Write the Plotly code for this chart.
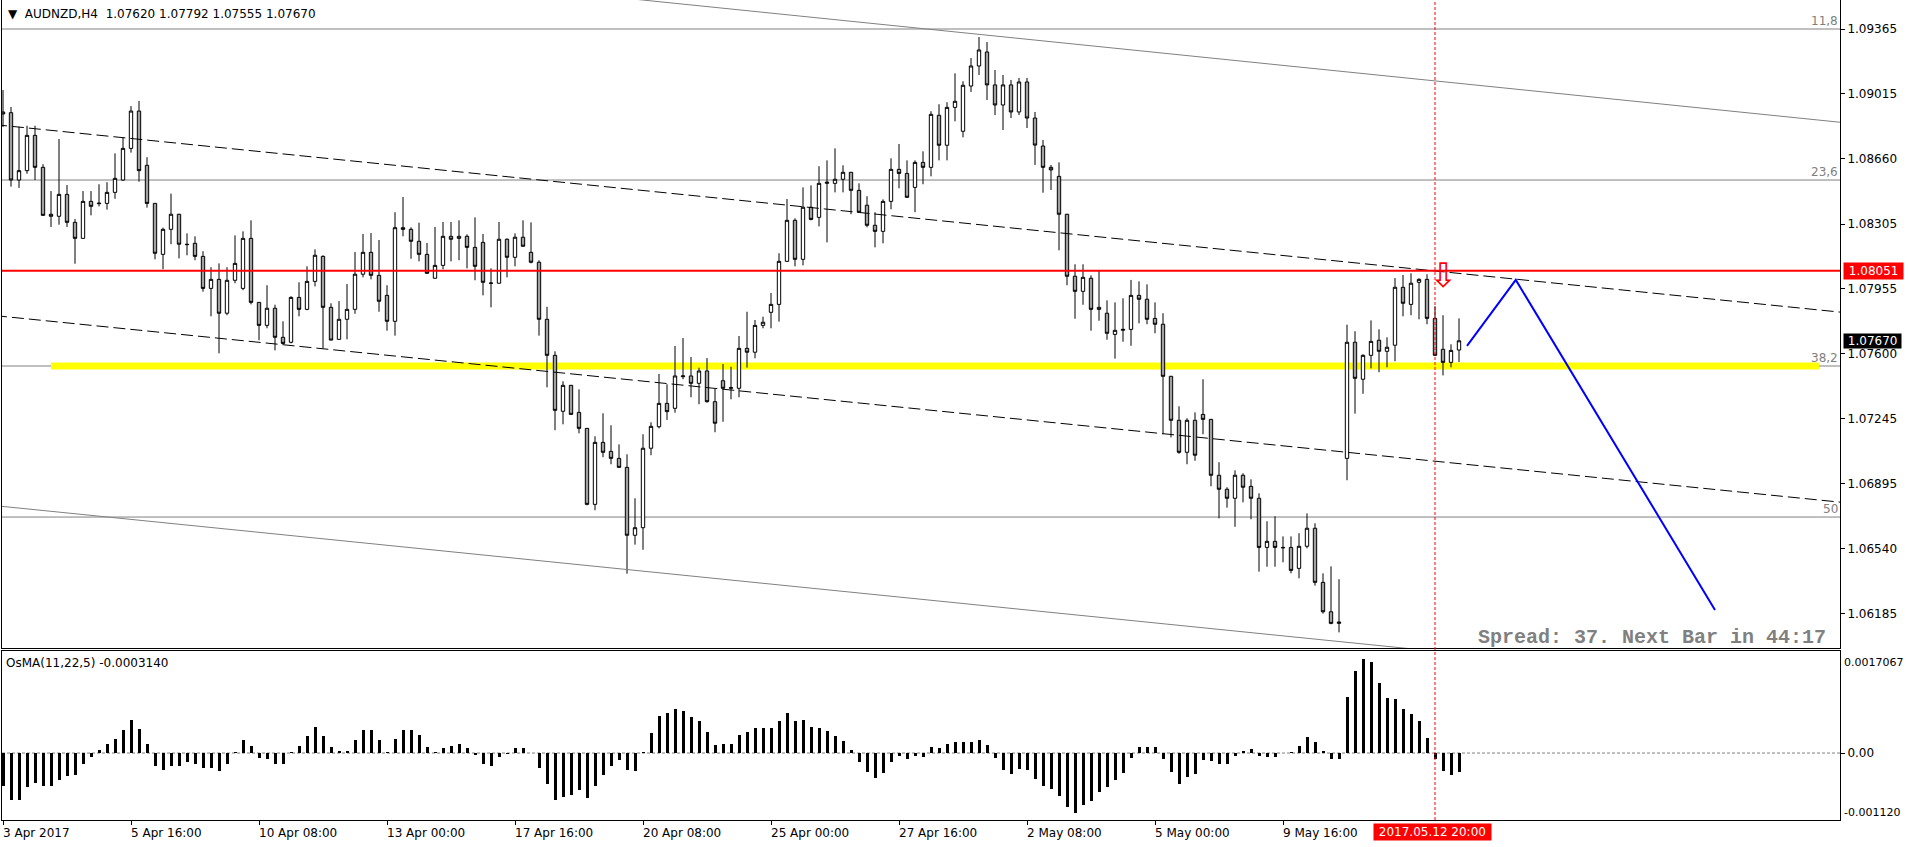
import plotly.graph_objects as go

# ---------------- data ----------------
opens = [1.08914,1.08910,1.08544,1.08595,1.08787,1.08613,1.08358,1.08347,1.08466,1.08314,
1.08227,1.08428,1.08419,1.08417,1.08477,1.08544,1.08716,1.08919,1.08624,1.08417,
1.08140,1.08276,1.08358,1.08195,1.08200,1.08129,1.07955,1.08004,1.07820,1.07999,
1.07955,1.08227,1.07879,1.07754,1.07847,1.07689,1.07662,1.07906,1.07841,1.07993,
1.08129,1.07852,1.07678,1.07787,1.07841,1.08032,1.08151,1.08026,1.07917,1.07776,
1.08285,1.08276,1.08211,1.08140,1.08010,1.08080,1.08238,1.08227,1.08238,1.08178,
1.08205,1.07984,1.07983,1.08222,1.08124,1.08233,1.08151,1.08097,1.07787,1.07591,
1.07287,1.07428,1.07281,1.07194,1.06781,1.07118,1.07069,1.07031,1.06982,1.06613,
1.06654,1.07086,1.07203,1.07330,1.07303,1.07475,1.07479,1.07439,1.07506,1.07339,
1.07453,1.07412,1.07412,1.07629,1.07608,1.07754,1.07825,1.07868,1.08102,1.08325,
1.08113,1.08396,1.08341,1.08526,1.08526,1.08548,1.08586,1.08488,1.08407,1.08298,
1.08265,1.08428,1.08602,1.08580,1.08504,1.08640,1.08613,1.08896,1.08733,1.08939,
1.08809,1.09055,1.09164,1.09240,1.09061,1.08952,1.09061,1.08914,1.09077,1.08881,
1.08729,1.08613,1.08564,1.08358,1.08021,1.07939,1.08010,1.07841,1.07820,1.07705,
1.07727,1.07732,1.07917,1.07896,1.07792,1.07760,1.07477,1.07238,1.07064,1.07238,
1.07270,1.07243,1.06939,1.06863,1.06814,1.06939,1.06879,1.06814,1.06547,1.06580,
1.06547,1.06547,1.06433,1.06553,1.06651,1.06357,1.06197,1.06134,1.07031,1.07662,
1.07461,1.07591,1.07673,1.07613,1.07646,1.07961,1.07868,1.07988,1.08004,1.07792,
1.07624,1.07553,1.07620]
highs = [1.09033,1.08941,1.08834,1.08839,1.08839,1.08630,1.08484,1.08767,1.08517,1.08332,
1.08484,1.08484,1.08521,1.08532,1.08689,1.08776,1.08946,1.08974,1.08668,1.08419,
1.08285,1.08470,1.08360,1.08254,1.08238,1.08157,1.08070,1.08091,1.08070,1.08243,
1.08265,1.08325,1.07881,1.07972,1.07866,1.07776,1.07912,1.07988,1.08075,1.08167,
1.08135,1.07874,1.07886,1.07979,1.08153,1.08251,1.08256,1.08218,1.07972,1.08369,
1.08452,1.08287,1.08312,1.08202,1.08289,1.08316,1.08316,1.08325,1.08249,1.08341,
1.08251,1.08064,1.08316,1.08227,1.08254,1.08325,1.08314,1.08108,1.07855,1.07613,
1.07450,1.07430,1.07406,1.07196,1.07151,1.07276,1.07211,1.07107,1.07053,1.06814,
1.07162,1.07227,1.07490,1.07434,1.07642,1.07685,1.07582,1.07524,1.07576,1.07408,
1.07544,1.07529,1.07696,1.07828,1.07783,1.07801,1.07930,1.08146,1.08441,1.08336,
1.08504,1.08515,1.08619,1.08651,1.08716,1.08624,1.08588,1.08526,1.08456,1.08369,
1.08439,1.08662,1.08740,1.08651,1.08651,1.08700,1.08918,1.08956,1.08967,1.09124,
1.09081,1.09207,1.09321,1.09294,1.09142,1.09115,1.09088,1.09099,1.09099,1.08914,
1.08762,1.08626,1.08640,1.08360,1.08086,1.08086,1.08026,1.08051,1.07890,1.07879,
1.07901,1.08001,1.07993,1.07977,1.07879,1.07820,1.07479,1.07314,1.07249,1.07281,
1.07461,1.07245,1.07010,1.06874,1.06966,1.06950,1.06917,1.06841,1.06689,1.06716,
1.06607,1.06607,1.06624,1.06732,1.06678,1.06406,1.06444,1.06374,1.07758,1.07722,
1.07597,1.07781,1.07732,1.07689,1.08011,1.08028,1.08037,1.08010,1.08032,1.07858,
1.07809,1.07651,1.07792]
lows = [1.08832,1.08508,1.08501,1.08578,1.08544,1.08350,1.08289,1.08301,1.08289,1.08089,
1.08225,1.08352,1.08401,1.08383,1.08442,1.08539,1.08693,1.08535,1.08394,1.08113,
1.08059,1.08195,1.08118,1.08135,1.08108,1.07937,1.07803,1.07602,1.07809,1.07983,
1.07945,1.07868,1.07673,1.07738,1.07618,1.07651,1.07656,1.07803,1.07836,1.07966,
1.07629,1.07672,1.07676,1.07678,1.07817,1.08015,1.08004,1.07828,1.07725,1.07698,
1.08238,1.08116,1.08102,1.08035,1.08008,1.08059,1.08102,1.08108,1.08064,1.07999,
1.07917,1.07852,1.07981,1.08015,1.08075,1.08182,1.08091,1.07698,1.07417,1.07184,
1.07216,1.07268,1.07167,1.06776,1.06749,1.07037,1.06999,1.06980,1.06404,1.06562,
1.06534,1.07048,1.07194,1.07240,1.07279,1.07461,1.07363,1.07325,1.07334,1.07173,
1.07230,1.07352,1.07363,1.07524,1.07575,1.07738,1.07738,1.07774,1.08100,1.08075,
1.08080,1.08325,1.08292,1.08205,1.08477,1.08477,1.08358,1.08367,1.08287,1.08178,
1.08200,1.08385,1.08499,1.08448,1.08369,1.08521,1.08564,1.08651,1.08651,1.08863,
1.08776,1.09023,1.09115,1.08979,1.08897,1.08816,1.08881,1.08897,1.08827,1.08626,
1.08475,1.08490,1.08162,1.07972,1.07790,1.07866,1.07725,1.07779,1.07676,1.07573,
1.07665,1.07643,1.07765,1.07760,1.07711,1.07162,1.07145,1.07056,1.06999,1.07018,
1.07162,1.06879,1.06705,1.06763,1.06659,1.06792,1.06700,1.06415,1.06442,1.06442,
1.06466,1.06406,1.06379,1.06542,1.06339,1.06187,1.06129,1.06085,1.06912,1.07274,
1.07382,1.07520,1.07499,1.07526,1.07559,1.07803,1.07809,1.07787,1.07760,1.07589,
1.07482,1.07526,1.07555]
closes = [1.08903,1.08544,1.08595,1.08787,1.08613,1.08352,1.08347,1.08466,1.08314,1.08227,
1.08428,1.08401,1.08416,1.08477,1.08553,1.08716,1.08919,1.08595,1.08417,1.08146,
1.08276,1.08358,1.08195,1.08193,1.08129,1.07955,1.08004,1.07820,1.07999,1.08091,
1.08227,1.07879,1.07754,1.07847,1.07689,1.07656,1.07906,1.07841,1.07993,1.08135,
1.07852,1.07674,1.07787,1.07841,1.08032,1.08151,1.08026,1.07885,1.07776,1.08285,
1.08276,1.08211,1.08140,1.08037,1.08080,1.08238,1.08222,1.08238,1.08178,1.08075,
1.07988,1.07983,1.08222,1.08124,1.08233,1.08184,1.08097,1.07787,1.07591,1.07292,
1.07428,1.07270,1.07194,1.06781,1.07118,1.07064,1.07031,1.06982,1.06613,1.06654,
1.07086,1.07205,1.07330,1.07285,1.07479,1.07479,1.07439,1.07506,1.07339,1.07222,
1.07412,1.07415,1.07629,1.07608,1.07754,1.07771,1.07868,1.08102,1.08325,1.08113,
1.08396,1.08330,1.08526,1.08532,1.08548,1.08586,1.08488,1.08369,1.08298,1.08265,
1.08428,1.08602,1.08580,1.08450,1.08640,1.08613,1.08901,1.08733,1.08939,1.08972,
1.09059,1.09164,1.09251,1.09061,1.08952,1.09061,1.08914,1.09077,1.08881,1.08734,
1.08613,1.08599,1.08358,1.08021,1.07939,1.08015,1.07841,1.07852,1.07711,1.07727,
1.07732,1.07917,1.07896,1.07787,1.07760,1.07477,1.07238,1.07064,1.07238,1.07048,
1.07243,1.06939,1.06863,1.06814,1.06939,1.06874,1.06814,1.06547,1.06580,1.06547,
1.06545,1.06422,1.06553,1.06651,1.06357,1.06197,1.06134,1.06141,1.07662,1.07466,
1.07591,1.07667,1.07613,1.07635,1.07961,1.07874,1.07983,1.08004,1.07792,1.07591,
1.07553,1.07618,1.07670]
bars = list(range(len(closes)))

osma = [
-0.000557,-0.000781,-0.000781,-0.000574,-0.000502,-0.000557,-0.000557,-0.000447,-0.000390,-0.000363,
-0.000179,-0.000072,0.000055,0.000156,0.000239,0.000380,0.000557,0.000407,0.000156,-0.000212,
-0.000289,-0.000212,-0.000212,-0.000156,-0.000179,-0.000251,-0.000251,-0.000306,-0.000179,0.000017,
0.000223,0.000112,-0.000079,-0.000100,-0.000184,-0.000184,0.000017,0.000112,0.000279,0.000440,
0.000289,0.000095,0.000028,0.000038,0.000212,0.000390,0.000380,0.000223,0.000017,0.000239,
0.000380,0.000390,0.000301,0.000100,0.000017,0.000084,0.000122,0.000156,0.000084,-0.000033,
-0.000179,-0.000223,-0.000072,-0.000022,0.000084,0.000084,0.000005,-0.000256,-0.000514,-0.000781,
-0.000741,-0.000708,-0.000624,-0.000758,-0.000557,-0.000373,-0.000223,-0.000112,-0.000289,-0.000306,
0.000017,0.000340,0.000619,0.000674,0.000741,0.000708,0.000607,0.000540,0.000356,0.000139,
0.000151,0.000151,0.000306,0.000356,0.000423,0.000423,0.000423,0.000540,0.000674,0.000540,
0.000557,0.000435,0.000423,0.000373,0.000289,0.000206,0.000055,-0.000156,-0.000323,-0.000423,
-0.000340,-0.000156,-0.000045,-0.000100,-0.000055,-0.000072,0.000100,0.000084,0.000156,0.000184,
0.000189,0.000189,0.000223,0.000139,-0.000089,-0.000289,-0.000356,-0.000273,-0.000289,-0.000438,
-0.000557,-0.000606,-0.000724,-0.000908,-0.000995,-0.000875,-0.000808,-0.000644,-0.000574,-0.000457,
-0.000326,-0.000089,0.000095,0.000109,0.000109,-0.000104,-0.000323,-0.000510,-0.000405,-0.000356,
-0.000122,-0.000139,-0.000189,-0.000189,-0.000055,0.000030,0.000067,-0.000043,-0.000072,-0.000072,
0.000003,0.000020,0.000122,0.000273,0.000189,0.000038,-0.000092,-0.000105,0.000942,0.001377,
0.001578,0.001527,0.001179,0.000920,0.000898,0.000741,0.000657,0.000544,0.000259,-0.000094,
-0.000306,-0.000373,-0.000314]

date_ticks = [0, 16, 32, 48, 64, 80, 96, 112, 128, 144, 160]
date_labels = ["3 Apr 2017", "5 Apr 16:00", "10 Apr 08:00", "13 Apr 00:00", "17 Apr 16:00",
               "20 Apr 08:00", "25 Apr 00:00", "27 Apr 16:00", "2 May 08:00", "5 May 00:00",
               "9 May 16:00"]
price_ticks = [1.09365, 1.09015, 1.08660, 1.08305, 1.07955, 1.07600, 1.07245, 1.06895, 1.06540, 1.06185]

fib_levels = [1.09365, 1.08544, 1.07533, 1.06712]
fib_labels = ["11,8", "23,6", "38,2", "50"]
resistance = 1.08051
support_band = 1.07533
support_band_bars = [6, 227]

# channel lines: two anchor points each (bar, price)
chan_bars = [-1, 231]
upper_solid = [1.09882, 1.08852]
upper_dashed = [1.08845, 1.07820]
lower_dashed = [1.07807, 1.06787]
lower_solid = [1.06774, 1.05754]

forecast_bars = [183, 189.1, 214]
forecast_prices = [1.07642, 1.08001, 1.06207]

cursor_bar = 179
cursor_label = "2017.05.12 20:00"
arrow_bar = 180
arrow_price = 1.08027
last_price = 1.07670
osc_max, osc_min = 0.0017067, -0.00112
header = "AUDNZD,H4  1.07620 1.07792 1.07555 1.07670"
osc_header = "OsMA(11,22,5) -0.0003140"
spread_text = "Spread: 37. Next Bar in 44:17"

# ---------------- layout geometry (px) ----------------
W, H = 1908, 847
PL, PR = 2, 1840
PT, PB = 0, 820
MAIN_BOT, OSC_TOP = 648, 651
PH = PB - PT
PW = PR - PL
def py(p):  # pixel y -> paper y
    return (PB - p) / PH
def px(p):  # pixel x -> paper x
    return (p - PL) / PW

FONT = "DejaVu Sans"
GRAY = "#808080"

fig = go.Figure()

fig.add_trace(go.Candlestick(
    x=bars, open=opens, high=highs, low=lows, close=closes,
    increasing=dict(line=dict(color="black", width=1), fillcolor="white"),
    decreasing=dict(line=dict(color="black", width=1), fillcolor="#a0a0a0"),
    xaxis="x", yaxis="y", showlegend=False, hoverinfo="skip"))

for ys, dash, color in [(upper_solid, "solid", GRAY), (upper_dashed, "12px,5px", "black"),
                        (lower_dashed, "12px,5px", "black"), (lower_solid, "solid", GRAY)]:
    fig.add_trace(go.Scatter(x=chan_bars, y=ys, mode="lines", xaxis="x", yaxis="y",
                             line=dict(color=color, width=1, dash=dash),
                             showlegend=False, hoverinfo="skip"))

fig.add_trace(go.Scatter(x=forecast_bars, y=forecast_prices, mode="lines", xaxis="x", yaxis="y",
                         line=dict(color="#0000ff", width=2), showlegend=False, hoverinfo="skip"))

fig.add_trace(go.Bar(x=bars, y=osma, xaxis="x2", yaxis="y2", width=0.375,
                     marker=dict(color="black", line=dict(width=0)),
                     showlegend=False, hoverinfo="skip"))

shapes = []
shapes.append(dict(type="line", xref="x", yref="y", x0=support_band_bars[0], x1=support_band_bars[1],
                   y0=support_band, y1=support_band, line=dict(color="#ffff00", width=7), layer="below"))
for lv in fib_levels:
    shapes.append(dict(type="line", xref="x domain", yref="y", x0=0, x1=1, y0=lv, y1=lv,
                       line=dict(color=GRAY, width=1), layer="below"))
shapes.append(dict(type="line", xref="x domain", yref="y", x0=0, x1=1, y0=resistance, y1=resistance,
                   line=dict(color="#ff0000", width=2), layer="above"))
shapes.append(dict(type="line", xref="x2 domain", yref="y2", x0=0, x1=1, y0=0, y1=0,
                   line=dict(color=GRAY, width=1, dash="3px,2px"), layer="below"))
shapes.append(dict(type="line", xref="x", yref="paper", x0=cursor_bar, x1=cursor_bar, y0=0, y1=1,
                   line=dict(color="#ff0000", width=1, dash="3px,2px"), layer="above"))

ann = []
ann.append(dict(xref="paper", yref="paper", x=px(6), y=py(14), xanchor="left", yanchor="middle",
                text="▼\u00a0\u00a0" + header.replace(" ", "\u00a0"), showarrow=False,
                font=dict(family=FONT, size=12, color="black")))
ann.append(dict(xref="paper", yref="paper", x=px(4), y=py(663), xanchor="left", yanchor="middle",
                text=osc_header, showarrow=False, font=dict(family=FONT, size=12, color="black")))
for lv, lb in zip(fib_levels, fib_labels):
    ann.append(dict(xref="x domain", yref="y", x=1, y=lv, xanchor="right", yanchor="bottom",
                    text=lb, showarrow=False, font=dict(family=FONT, size=12, color=GRAY),
                    borderpad=0, xshift=-1))
ann.append(dict(xref="paper", yref="y", x=px(1843), y=resistance, xanchor="left", yanchor="middle",
                text="\u00a01.08051\u00a0", showarrow=False, bgcolor="#ff0000", borderpad=1,
                font=dict(family=FONT, size=12, color="white")))
ann.append(dict(xref="paper", yref="y", x=px(1843), y=last_price, xanchor="left", yanchor="middle",
                text="\u00a0%.5f\u00a0" % last_price, showarrow=False, bgcolor="black", borderpad=0,
                font=dict(family=FONT, size=12, color="white")))
for t, lb in zip(date_ticks, date_labels):
    ann.append(dict(xref="x2", yref="paper", x=t, y=py(833), xanchor="left", yanchor="middle",
                    text=lb, showarrow=False, xshift=-2,
                    font=dict(family=FONT, size=12, color="black")))
ann.append(dict(xref="x2", yref="paper", x=cursor_bar, y=py(832), xanchor="center", yanchor="middle",
                text="\u00a0" + cursor_label + "\u00a0", showarrow=False, bgcolor="#ff0000", borderpad=1,
                xshift=-3, font=dict(family=FONT, size=12, color="white")))
ann.append(dict(xref="paper", yref="paper", x=px(1842), y=py(662), xanchor="left", yanchor="middle",
                text="%.7f" % osc_max, showarrow=False, font=dict(family=FONT, size=11, color="black")))
ann.append(dict(xref="paper", yref="paper", x=px(1842), y=py(812), xanchor="left", yanchor="middle",
                text="%.6f" % osc_min, showarrow=False, font=dict(family=FONT, size=11, color="black")))
ann.append(dict(xref="paper", yref="paper", x=px(1828), y=py(637), xanchor="right", yanchor="middle",
                text="<b>" + spread_text + "</b>", showarrow=False,
                font=dict(family="Liberation Mono", size=20, color=GRAY)))
ann.append(dict(xref="x", yref="y", x=arrow_bar, y=arrow_price, xanchor="center", yanchor="middle",
                text="⇩", showarrow=False, font=dict(family=FONT, size=34, color="#ff0000")))

main_lo = (PB - MAIN_BOT) / PH
osc_hi = (PB - OSC_TOP) / PH
xr = [(PL - 3) / 8, (PR - 3) / 8]
p_top = price_ticks[0] + (29 - 0) * 0.00005436
p_bot = price_ticks[0] - (MAIN_BOT - 29) * 0.00005436

axis_common = dict(showgrid=False, zeroline=False, showline=True, mirror=True,
                   linecolor="black", linewidth=1)

fig.update_layout(
    width=W, height=H,
    margin=dict(l=PL, r=W - PR, t=PT, b=H - PB),
    paper_bgcolor="white", plot_bgcolor="white",
    showlegend=False, boxgap=0.4, bargap=0,
    xaxis=dict(domain=[0, 1], anchor="y", range=xr, showticklabels=False, ticks="",
               rangeslider=dict(visible=False), **axis_common),
    xaxis2=dict(domain=[0, 1], anchor="y2", range=xr, matches="x", showticklabels=False,
                ticks="outside", ticklen=4, tickcolor="black", tickvals=date_ticks, **axis_common),
    yaxis=dict(domain=[main_lo, 1], anchor="x", range=[p_bot, p_top], side="right",
               tickvals=price_ticks, ticktext=["%.5f" % v for v in price_ticks],
               ticks="outside", ticklen=4, tickcolor="black",
               tickfont=dict(family=FONT, size=12, color="black"), **axis_common),
    yaxis2=dict(domain=[0, osc_hi], anchor="x2", range=[osc_min, osc_max], side="right",
                tickvals=[0], ticktext=["0.00"], ticks="outside", ticklen=4, tickcolor="black",
                tickfont=dict(family=FONT, size=12, color="black"), **axis_common),
    shapes=shapes, annotations=ann,
)

fig.write_html("out.html", config={"displayModeBar": False, "staticPlot": True},
               post_script="document.body.style.margin='0';")
